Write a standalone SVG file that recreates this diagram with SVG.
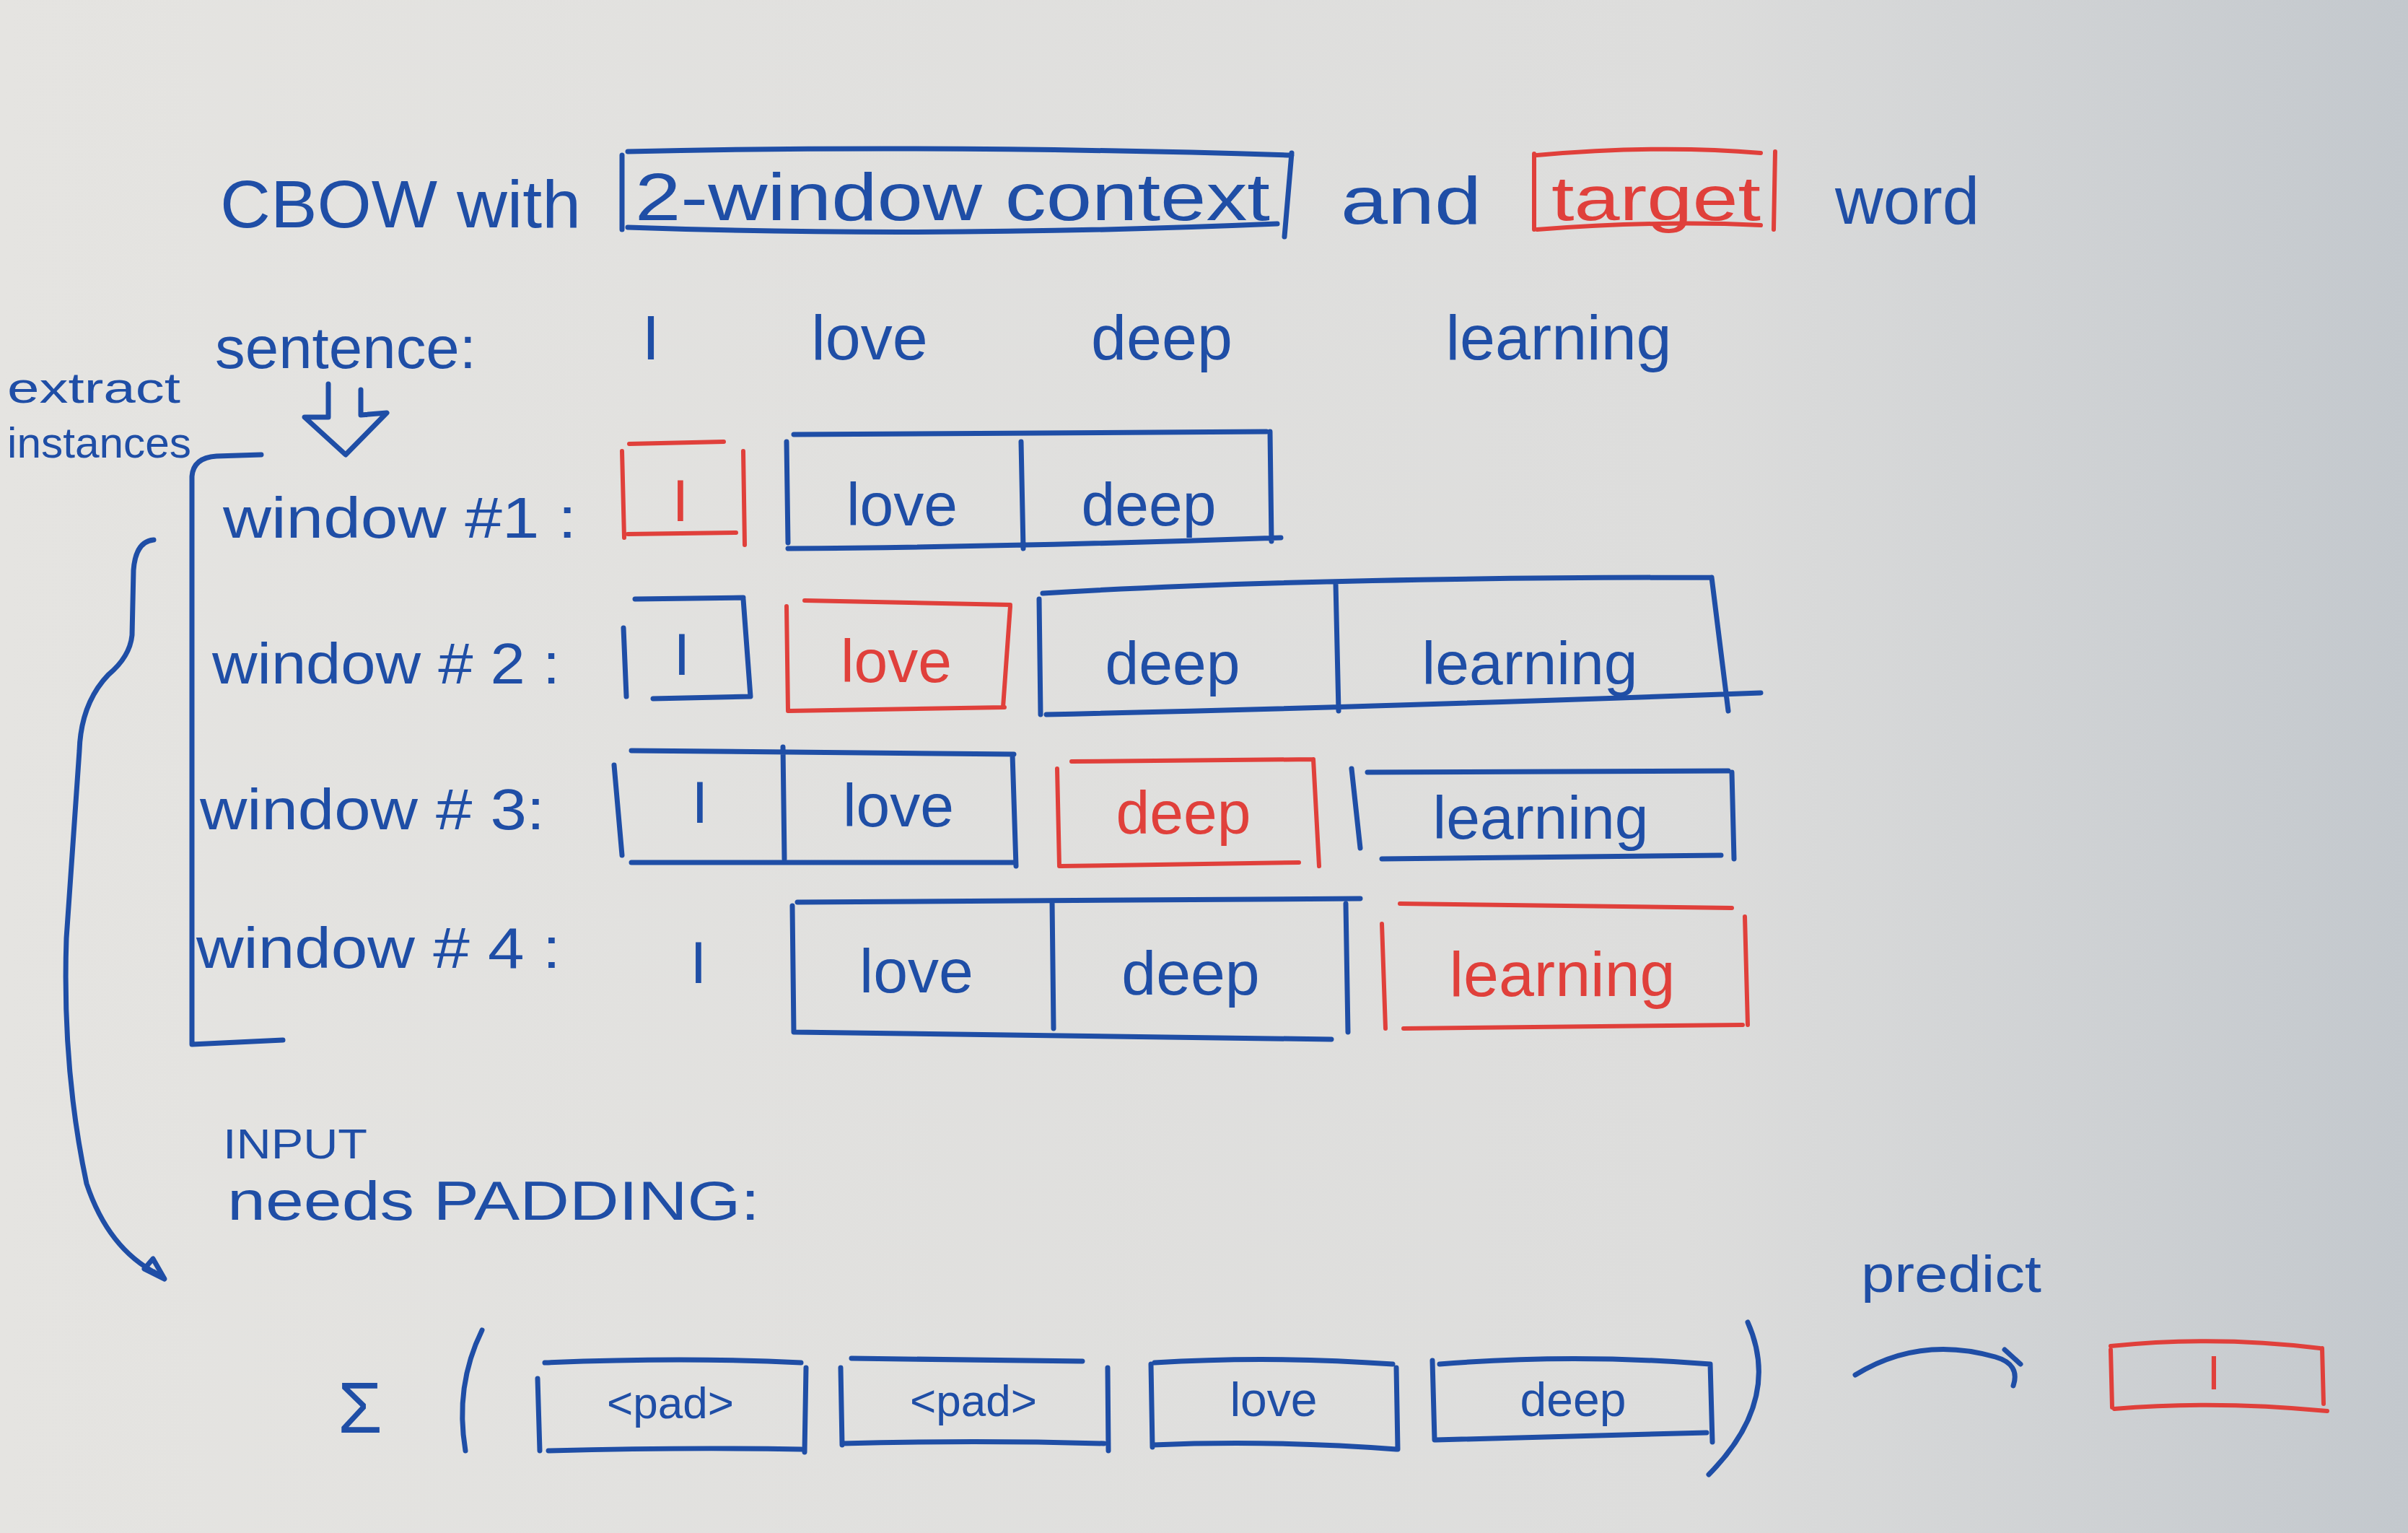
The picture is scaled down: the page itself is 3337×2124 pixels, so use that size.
<svg xmlns="http://www.w3.org/2000/svg" width="3337" height="2124" viewBox="0 0 3337 2124">
<defs>
<linearGradient id="bg" x1="0" y1="0" x2="1" y2="0">
<stop offset="0" stop-color="#e5e4e1"/>
<stop offset="0.7" stop-color="#dddddc"/>
<stop offset="1" stop-color="#c3c8cd"/>
</linearGradient>
<marker id="ah" viewBox="0 0 20 20" refX="16" refY="10" markerWidth="9" markerHeight="9" orient="auto" markerUnits="userSpaceOnUse">
<path d="M2,2 L18,10 L2,18" fill="none" stroke="#1f4ea6" stroke-width="3"/>
</marker>
<style>
.b{fill:none;stroke:#1f4ea6;stroke-width:7;stroke-linecap:round;stroke-linejoin:round}
.r{fill:none;stroke:#e0403b;stroke-width:6;stroke-linecap:round;stroke-linejoin:round}
.tb{fill:#1f4ea6;font-family:"Liberation Sans",Arial,sans-serif}
.tr{fill:#e0403b;font-family:"Liberation Sans",Arial,sans-serif}
.m{text-anchor:middle}
</style>
</defs>
<rect width="3337" height="2124" fill="url(#bg)"/>

<g id="title">
<text class="tb" x="305" y="315" font-size="92" textLength="500" lengthAdjust="spacingAndGlyphs">CBOW with</text>
<text class="tb" x="1858" y="310" font-size="92" textLength="195" lengthAdjust="spacingAndGlyphs">and</text>
<text class="tb" x="2543" y="310" font-size="92" textLength="200" lengthAdjust="spacingAndGlyphs">word</text>
</g>
<g id="context-box">
<path class="b" d="M870,210 Q1300,200 1790,215 M870,315 Q1300,330 1770,310 M862,215 L862,318 M1790,212 L1780,328"/>
<text class="tb" x="880" y="305" font-size="92" textLength="880" lengthAdjust="spacingAndGlyphs">2-window context</text>
</g>
<g id="target-box">
<path class="r" d="M2130,215 Q2300,200 2440,212 M2130,318 Q2300,305 2440,312 M2126,213 L2126,318 M2460,210 L2458,318"/>
<text class="tr" x="2150" y="305" font-size="88" textLength="290" lengthAdjust="spacingAndGlyphs">target</text>
</g>

<g id="sentence">
<text class="tb" x="298" y="510" font-size="82" textLength="362" lengthAdjust="spacingAndGlyphs">sentence:</text>
<text class="tb m" x="902" y="498" font-size="88">I</text>
<text class="tb m" x="1205" y="498" font-size="88">love</text>
<text class="tb m" x="1610" y="498" font-size="88">deep</text>
<text class="tb m" x="2160" y="498" font-size="88">learning</text>
</g>

<g id="extract-label">
<text class="tb" x="10" y="558" font-size="60" textLength="240" lengthAdjust="spacingAndGlyphs">extract</text>
<text class="tb" x="10" y="634" font-size="60" textLength="255" lengthAdjust="spacingAndGlyphs">instances</text>
</g>

<g id="connectors">
<path class="b" d="M455,532 L455,578 L422,578 L479,630 L536,572 L500,575 L500,540" stroke-width="6"/>
<path class="b" d="M362,630 L300,632 Q268,634 266,660 L266,1447 L392,1441"/>
<path class="b" d="M213,748 Q188,750 185,790 L183,880 Q180,910 150,935 Q112,975 110,1040 L92,1300 Q86,1480 120,1640 Q150,1730 218,1765" marker-end="url(#ah)"/>
<path class="b" d="M200,1758 L228,1772 L212,1744 Z" stroke-width="6"/>
<path class="b" d="M2571,1905 Q2660,1850 2765,1880 Q2800,1890 2790,1920" stroke-width="6"/>
<path class="b" d="M2778,1870 L2800,1890" stroke-width="6"/>
</g>

<g id="window1">
<text class="tb" x="309" y="745" font-size="80" textLength="490" lengthAdjust="spacingAndGlyphs">window #1 :</text>
<path class="r" d="M872,615 L1003,612 M870,740 L1020,738 M862,625 L865,745 M1030,625 L1032,755"/>
<text class="tr m" x="943" y="722" font-size="82">I</text>
<path class="b" d="M1100,602 L1755,598 M1092,760 Q1400,758 1775,745 M1090,612 L1092,752 M1415,612 L1418,760 M1760,598 L1762,750"/>
<text class="tb m" x="1250" y="728" font-size="84">love</text>
<text class="tb m" x="1592" y="728" font-size="84">deep</text>
</g>

<g id="window2">
<text class="tb" x="294" y="947" font-size="80" textLength="482" lengthAdjust="spacingAndGlyphs">window # 2 :</text>
<path class="b" d="M864,870 L868,965 M880,830 L1030,828 M905,968 L1040,965 M1030,830 L1040,965"/>
<text class="tb m" x="945" y="935" font-size="82">I</text>
<path class="r" d="M1115,832 L1400,838 M1090,840 L1092,985 M1092,985 L1392,980 M1400,840 L1390,980"/>
<text class="tr m" x="1242" y="945" font-size="84">love</text>
<path class="b" d="M1445,822 Q1800,800 2372,800 M1450,990 Q1900,980 2440,960 M1440,830 L1442,990 M1851,808 L1855,985 M2372,800 L2395,985"/>
<text class="tb m" x="1625" y="948" font-size="84">deep</text>
<text class="tb m" x="2120" y="948" font-size="84">learning</text>
</g>

<g id="window3">
<text class="tb" x="277" y="1149" font-size="80" textLength="478" lengthAdjust="spacingAndGlyphs">window # 3:</text>
<path class="b" d="M875,1040 L1405,1045 M875,1195 L1405,1195 M851,1060 L862,1185 M1085,1035 L1087,1190 M1403,1045 L1408,1200"/>
<text class="tb m" x="970" y="1140" font-size="82">I</text>
<text class="tb m" x="1245" y="1145" font-size="84">love</text>
<path class="r" d="M1485,1055 L1820,1052 M1470,1200 L1800,1195 M1465,1065 L1468,1200 M1820,1052 L1828,1200"/>
<text class="tr m" x="1640" y="1155" font-size="84">deep</text>
<path class="b" d="M1895,1070 L2395,1068 M1915,1190 L2385,1185 M1873,1065 L1885,1175 M2400,1070 L2403,1190"/>
<text class="tb m" x="2135" y="1162" font-size="84">learning</text>
</g>

<g id="window4">
<text class="tb" x="272" y="1341" font-size="80" textLength="505" lengthAdjust="spacingAndGlyphs">window # 4 :</text>
<text class="tb m" x="968" y="1362" font-size="82">I</text>
<path class="b" d="M1105,1250 L1885,1245 M1100,1430 L1845,1440 M1098,1255 L1100,1430 M1458,1248 L1460,1425 M1865,1252 L1868,1430"/>
<text class="tb m" x="1270" y="1375" font-size="86">love</text>
<text class="tb m" x="1650" y="1378" font-size="86">deep</text>
<path class="r" d="M1940,1252 L2400,1258 M1945,1425 L2415,1420 M1915,1280 L1920,1425 M2418,1270 L2422,1420"/>
<text class="tr m" x="2165" y="1380" font-size="88">learning</text>
</g>

<g id="padding-label">
<text class="tb" x="309" y="1605" font-size="58" textLength="200" lengthAdjust="spacingAndGlyphs">INPUT</text>
<text class="tb" x="315" y="1690" font-size="76" textLength="738" lengthAdjust="spacingAndGlyphs">needs PADDING:</text>
</g>

<g id="sum-input">
<text class="tb" x="468" y="1985" font-size="100">Σ</text>
<path class="b" d="M668,1843 Q630,1920 645,2010" stroke-width="6"/>
<path class="b" d="M2422,1832 Q2470,1940 2368,2043" stroke-width="6"/>
</g>
<g id="pad1">
<path class="b" d="M755,1888 Q950,1880 1110,1888 M760,2010 Q950,2005 1110,2008 M745,1910 L748,2010 M1117,1895 L1115,2012"/>
<text class="tb m" x="929" y="1965" font-size="62">&lt;pad&gt;</text>
</g>
<g id="pad2">
<path class="b" d="M1180,1882 L1500,1886 M1168,2000 Q1350,1995 1530,2000 M1165,1895 L1167,2002 M1535,1895 L1536,2010"/>
<text class="tb m" x="1349" y="1962" font-size="62">&lt;pad&gt;</text>
</g>
<g id="love-in">
<path class="b" d="M1600,1888 Q1760,1878 1930,1890 M1598,2002 Q1760,1995 1935,2008 M1595,1890 L1597,2005 M1935,1895 L1937,2008"/>
<text class="tb m" x="1765" y="1962" font-size="66">love</text>
</g>
<g id="deep-in">
<path class="b" d="M1995,1890 Q2180,1875 2370,1890 M1990,1995 Q2180,1990 2365,1985 M1985,1885 L1988,1995 M2370,1890 L2373,1998"/>
<text class="tb m" x="2180" y="1962" font-size="66">deep</text>
</g>

<g id="predict-label">
<text class="tb" x="2579" y="1790" font-size="72" textLength="250" lengthAdjust="spacingAndGlyphs">predict</text>
</g>
<g id="target-out">
<path class="r" d="M2925,1865 Q3070,1850 3215,1868 M2930,1952 Q3070,1940 3225,1955 M2925,1870 L2927,1950 M3218,1868 L3220,1945"/>
<text class="tr m" x="3068" y="1925" font-size="66">I</text>
</g>
</svg>
